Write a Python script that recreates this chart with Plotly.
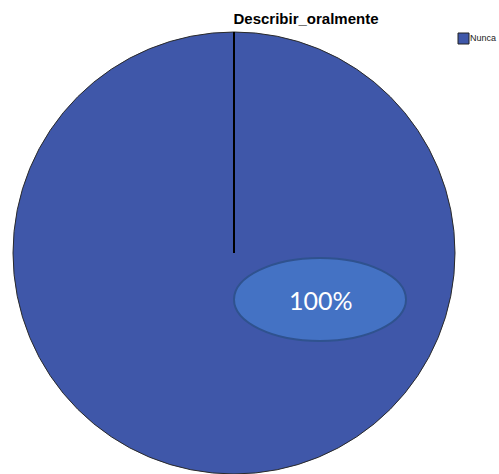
import plotly.graph_objects as go

# data
categories = ["Nunca"]
values = [100]
colors = ["#3F57A9"]
title = "Describir_oralmente"

W, H = 499, 474


def px_x(p):
    return p / W


def px_y(p):
    return 1 - p / H


pct = [v / sum(values) * 100 for v in values]

fig = go.Figure(
    go.Pie(
        labels=categories,
        values=values,
        marker=dict(colors=colors, line=dict(color="#2a2a2a", width=1)),
        textinfo="none",
        sort=False,
        direction="clockwise",
        rotation=0,
        hoverinfo="label+percent",
        showlegend=False,
        domain=dict(x=[px_x(12), px_x(456)], y=[0, px_y(32)]),
    )
)

# slice boundary line from center to top
fig.add_shape(
    type="line", xref="paper", yref="paper",
    x0=px_x(234), x1=px_x(234), y0=px_y(32), y1=px_y(253),
    line=dict(color="black", width=2),
)

# label bubble
fig.add_shape(
    type="circle", xref="paper", yref="paper",
    x0=px_x(234), x1=px_x(406), y0=px_y(258), y1=px_y(341),
    fillcolor="#4472C4", line=dict(color="#2F528F", width=2),
)
fig.add_annotation(
    x=px_x(321), y=px_y(300), xref="paper", yref="paper",
    text=f"{pct[0]:.0f}%", showarrow=False,
    font=dict(family="Lato, Open Sans, sans-serif", size=25, color="white"),
)

# manual legend
fig.add_shape(
    type="rect", xref="paper", yref="paper",
    x0=px_x(458), x1=px_x(469), y0=px_y(33), y1=px_y(44),
    fillcolor=colors[0], line=dict(color="#222", width=1),
)
fig.add_annotation(
    x=px_x(469), y=px_y(39), xref="paper", yref="paper",
    text=categories[0], showarrow=False, xanchor="left", yanchor="middle",
    yshift=1, borderpad=0,
    font=dict(family="Liberation Sans, Arial", size=9, color="#222"),
)

fig.update_layout(
    width=W, height=H,
    margin=dict(l=0, r=0, t=0, b=0),
    paper_bgcolor="white",
    title=dict(
        text=f"<b>{title}</b>", x=px_x(306), y=px_y(19),
        xanchor="center", yanchor="middle",
        font=dict(family="Liberation Sans, Arial", size=15, color="black"),
    ),
)

fig.write_html(
    "out.html",
    config={"displayModeBar": False},
    post_script="document.body.style.margin='0';document.body.style.overflow='hidden';",
)
